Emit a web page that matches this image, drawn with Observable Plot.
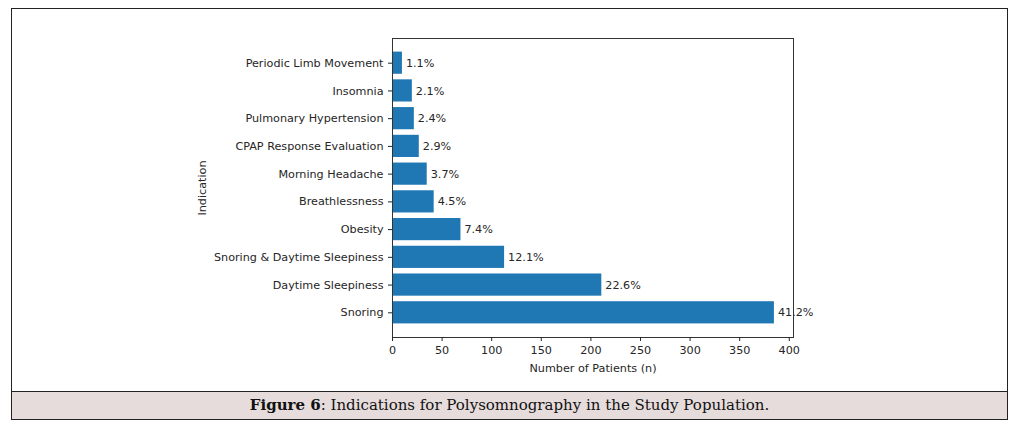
<!DOCTYPE html>
<html>
<head>
<meta charset="utf-8">
<script src="https://cdn.jsdelivr.net/npm/d3@7"></script>
<script src="https://cdn.jsdelivr.net/npm/@observablehq/plot@0.6"></script>
<style>
  html, body { margin: 0; padding: 0; background: #ffffff; }
  body { position: relative; width: 1031px; height: 434px; overflow: hidden; }
  #box { position: absolute; left: 11px; top: 8px; width: 995px; height: 383px; border: 1.5px solid #222; border-bottom: none; }
  #chart { position: absolute; left: 0; top: 0; }
  #caption { position: absolute; left: 11px; top: 391px; width: 995px; height: 27px; border: 1.5px solid #222;
    background: #e7dcdc; font-family: "DejaVu Serif", serif; font-size: 15px; color: #111;
    text-align: center; line-height: 27px; }
  #caption b { font-weight: bold; }
</style>
</head>
<body>
<div id="box"></div>
<div id="chart"></div>
<div id="caption"><b>Figure 6</b>: Indications for Polysomnography in the Study Population.</div>
<script>
const categories = [
  "Periodic Limb Movement",
  "Insomnia",
  "Pulmonary Hypertension",
  "CPAP Response Evaluation",
  "Morning Headache",
  "Breathlessness",
  "Obesity",
  "Snoring & Daytime Sleepiness",
  "Daytime Sleepiness",
  "Snoring"
];
const patients = [10, 20, 22, 27, 35, 42, 69, 113, 211, 385];
const percentLabels = ["1.1%", "2.1%", "2.4%", "2.9%", "3.7%", "4.5%", "7.4%", "12.1%", "22.6%", "41.2%"];
const xTicks = [0, 50, 100, 150, 200, 250, 300, 350, 400];

const data = categories.map((c, i) => ({cat: c, n: patients[i], pct: percentLabels[i]}));

const chart = Plot.plot({
  width: 1031,
  height: 392,
  marginLeft: 392,
  marginRight: 238,
  marginTop: 38,
  marginBottom: 55,
  style: {fontFamily: "DejaVu Sans", fontSize: "11.2px", color: "#262626", background: "transparent"},
  x: {domain: [0, 404.25]},
  y: {domain: categories, paddingInner: 0.2, paddingOuter: 0.49, round: false},
  marks: [
    Plot.barX(data, {x: "n", y: "cat", fill: "#1f77b4"}),
    Plot.text(data, {x: "n", y: "cat", text: "pct", textAnchor: "start", dx: 3.5, fill: "#262626"}),
    Plot.frame({stroke: "#333", strokeWidth: 1}),
    Plot.axisX({ticks: xTicks, tickSize: 4, tickPadding: 4.5, label: "Number of Patients (n)", labelAnchor: "center", labelArrow: "none", labelOffset: 34}),
    Plot.axisY({tickSize: 4, tickPadding: 5, label: "Indication", labelAnchor: "center", labelArrow: "none", labelOffset: 194})
  ]
});
document.getElementById("chart").appendChild(chart);
</script>
</body>
</html>
